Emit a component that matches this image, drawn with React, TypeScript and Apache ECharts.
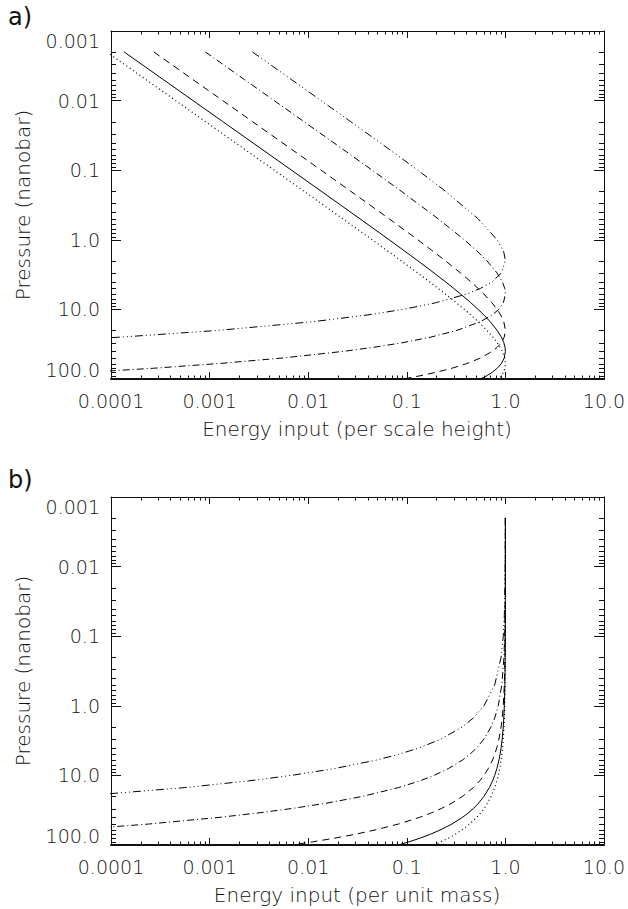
import React, { useEffect, useRef } from "react";
import * as echarts from "echarts";

// Pressure levels (nanobar) shared by all curves
const PRESSURE = [0.002, 0.005, 0.01, 0.02, 0.05, 0.1, 0.2, 0.5, 1, 1.5, 2, 3, 4, 5, 6, 8, 10, 12, 15, 20, 25, 30, 35, 40, 50, 60, 70, 80, 90, 100];

// Panel a) energy input per scale height
const A_DASHDOTDOT = [0.00272, 0.00678, 0.01352, 0.0269, 0.0663, 0.1293, 0.246, 0.529, 0.824, 0.963, 1.0, 0.91, 0.736, 0.558, 0.406, 0.199, 0.0916, 0.0404, 0.01128, 0.001234, 0.0001266, 0.0000125];
const A_DASHDOT = [0.000906, 0.002263, 0.004523, 0.00903, 0.02246, 0.04456, 0.08764, 0.2084, 0.3835, 0.529, 0.6492, 0.824, 0.9304, 0.9845, 1.0, 0.9553, 0.8557, 0.736, 0.558, 0.3232, 0.1756, 0.0916, 0.04645, 0.02305, 0.00544, 0.001234, 0.0002717, 0.0000587];
const A_DASHED = [0.000272, 0.000679, 0.001358, 0.002716, 0.00678, 0.01352, 0.0269, 0.0663, 0.1293, 0.1891, 0.246, 0.3509, 0.4451, 0.529, 0.6041, 0.7288, 0.824, 0.8951, 0.963, 1.0, 0.9735, 0.91, 0.8266, 0.736, 0.558, 0.406, 0.2873, 0.199, 0.1359, 0.0916];
const A_SOLID = [0.0001359, 0.00034, 0.000679, 0.001358, 0.003394, 0.00678, 0.01352, 0.03356, 0.0663, 0.0982, 0.1293, 0.1891, 0.246, 0.2999, 0.3509, 0.4451, 0.529, 0.6041, 0.7006, 0.824, 0.9094, 0.963, 0.9915, 1.0, 0.9735, 0.91, 0.8266, 0.736, 0.6446, 0.558];
const A_DOTTED = [0.0000906, 0.0002265, 0.000453, 0.000906, 0.002263, 0.004523, 0.00903, 0.02246, 0.04456, 0.0663, 0.08764, 0.1293, 0.1695, 0.2084, 0.246, 0.3172, 0.3835, 0.4451, 0.529, 0.6492, 0.7467, 0.824, 0.8849, 0.9304, 0.9845, 1.0, 0.9876, 0.9553, 0.91, 0.8557];

// Panel b) energy input per unit mass
const B_DASHDOTDOT = [0.999, 0.9975, 0.995, 0.99, 0.9753, 0.9512, 0.9048, 0.7788, 0.6065, 0.4724, 0.3679, 0.2231, 0.1353, 0.0821, 0.0498, 0.01832, 0.006738, 0.002479, 0.000553, 0.0000454];
const B_DASHDOT = [0.99967, 0.99917, 0.99833, 0.99667, 0.9917, 0.9835, 0.9672, 0.92, 0.8465, 0.7788, 0.7165, 0.6065, 0.5134, 0.4346, 0.3679, 0.2636, 0.1889, 0.1353, 0.0821, 0.03567, 0.0155, 0.006738, 0.002928, 0.001273, 0.00024, 0.0000454];
const B_DASHED = [0.9999, 0.99975, 0.9995, 0.999, 0.9975, 0.995, 0.99, 0.9753, 0.9512, 0.9277, 0.9048, 0.8607, 0.8187, 0.7788, 0.7408, 0.6703, 0.6065, 0.5488, 0.4724, 0.3679, 0.2865, 0.2231, 0.1738, 0.1353, 0.0821, 0.0498, 0.0302, 0.01832, 0.01111, 0.006738];
const B_SOLID = [0.99995, 0.99988, 0.99975, 0.9995, 0.99875, 0.9975, 0.995, 0.9876, 0.9753, 0.9632, 0.9512, 0.9277, 0.9048, 0.8825, 0.8607, 0.8187, 0.7788, 0.7408, 0.6873, 0.6065, 0.5353, 0.4724, 0.4169, 0.3679, 0.2865, 0.2231, 0.1738, 0.1353, 0.1054, 0.0821];
const B_DOTTED = [0.99997, 0.99992, 0.99983, 0.99967, 0.99917, 0.99834, 0.99667, 0.9917, 0.9835, 0.9753, 0.9672, 0.9512, 0.9355, 0.92, 0.9048, 0.8752, 0.8465, 0.8187, 0.7788, 0.7165, 0.6592, 0.6065, 0.558, 0.5134, 0.4346, 0.3679, 0.3114, 0.2636, 0.2231, 0.1889];

// Tick labels
const X_TICK_EXP = [-4, -3, -2, -1, 0, 1];
const X_TICK_LABELS = ["0.0001", "0.001", "0.01", "0.1", "1.0", "10.0"];
const Y_TICK_EXP = [-3, -2, -1, 0, 1, 2];
const Y_TICK_LABELS = ["0.001", "0.01", "0.1", "1.0", "10.0", "100.0"];
const MINOR_MULT = [2, 3, 4, 5, 6, 7, 8, 9];
const X_DECADES = [0.0001, 0.001, 0.01, 0.1, 1];
const Y_DECADES = [0.001, 0.01, 0.1, 1, 10];

const X_TITLE_A = "Energy input (per scale height)";
const X_TITLE_B = "Energy input (per unit mass)";
const Y_TITLE = "Pressure (nanobar)";

const FONT = "DejaVu Sans";
const WEIGHT = 200;
const INK = "#111";

const X_MINOR = X_DECADES.flatMap((d) => MINOR_MULT.map((m) => m * d));
const Y_MINOR = Y_DECADES.flatMap((d) => MINOR_MULT.map((m) => m * d));

const STYLES: Record<string, any> = {
  solid: "solid",
  dotted: [1, 3],
  dashed: [7, 5],
  dashdot: [7, 3, 1, 3],
  dashdotdot: [8, 3, 1, 3, 1, 3, 1, 3],
};

function fmt(exps: number[], labels: string[]) {
  return (v: number) => {
    const k = Math.round(Math.log10(v));
    const i = exps.indexOf(k);
    return i >= 0 ? labels[i] : "";
  };
}

function xAxis(gridIndex: number, position: string) {
  const bottom = position === "bottom";
  return {
    type: "log",
    logBase: 10,
    gridIndex,
    position,
    min: 0.0001,
    max: 10,
    splitNumber: 5,
    axisLine: { show: true, onZero: false, lineStyle: { color: INK, width: bottom ? 2 : 1 } },
    axisTick: { show: true, inside: true, length: 7, lineStyle: { color: INK, width: 1 } },
    axisLabel: {
      show: bottom,
      margin: 12,
      fontFamily: FONT,
      fontWeight: WEIGHT,
      fontSize: 19,
      color: INK,
      showMinLabel: true,
      showMaxLabel: true,
      hideOverlap: false,
      formatter: fmt(X_TICK_EXP, X_TICK_LABELS),
    },
    splitLine: { show: false },
    minorTick: { show: false },
  };
}

function yAxis(gridIndex: number, position: string) {
  const left = position === "left";
  return {
    type: "log",
    logBase: 10,
    gridIndex,
    position,
    inverse: true,
    min: 0.001,
    max: 100,
    splitNumber: 5,
    axisLine: { show: true, onZero: false, lineStyle: { color: INK, width: 1 } },
    axisTick: { show: true, inside: true, length: 10, lineStyle: { color: INK, width: 1 } },
    axisLabel: {
      show: left,
      margin: 11,
      fontFamily: FONT,
      fontWeight: WEIGHT,
      fontSize: 19,
      color: INK,
      showMinLabel: true,
      showMaxLabel: true,
      hideOverlap: false,
      verticalAlignMinLabel: "top",
      verticalAlignMaxLabel: "bottom",
      formatter: fmt(Y_TICK_EXP, Y_TICK_LABELS),
    },
    splitLine: { show: false },
    minorTick: { show: false },
  };
}

function curve(name: string, values: number[], style: string, axisIndex: number) {
  return {
    name,
    type: "line",
    xAxisIndex: axisIndex,
    yAxisIndex: axisIndex,
    data: values.map((e, i) => [e, PRESSURE[i]]),
    showSymbol: false,
    symbol: "none",
    clip: true,
    silent: true,
    smooth: false,
    lineStyle: { color: "#000", width: style === "dotted" ? 1.2 : 1, type: STYLES[style] },
    z: 3,
  };
}

function minorTicks(axisIndex: number, kind: "x" | "y") {
  return {
    type: "custom",
    xAxisIndex: axisIndex,
    yAxisIndex: axisIndex,
    silent: true,
    clip: false,
    z: 5,
    data: kind === "x" ? X_MINOR.map((v) => [v, 1]) : Y_MINOR.map((v) => [1, v]),
    renderItem: (params: any, api: any) => {
      const cs = params.coordSys;
      const p = api.coord([api.value(0), api.value(1)]);
      const style = { stroke: INK, lineWidth: 1 };
      if (kind === "x") {
        const x = Math.round(p[0]) + 0.5;
        const yb = cs.y + cs.height;
        return {
          type: "group",
          children: [
            { type: "line", shape: { x1: x, y1: yb, x2: x, y2: yb - 3.5 }, style },
            { type: "line", shape: { x1: x, y1: cs.y, x2: x, y2: cs.y + 3.5 }, style },
          ],
        };
      }
      const y = Math.round(p[1]) + 0.5;
      const xr = cs.x + cs.width;
      return {
        type: "group",
        children: [
          { type: "line", shape: { x1: cs.x, y1: y, x2: cs.x + 5, y2: y }, style },
          { type: "line", shape: { x1: xr, y1: y, x2: xr - 5, y2: y }, style },
        ],
      };
    },
  };
}

function label(text: string, x: number, y: number, size: number, opts: any = {}) {
  return {
    type: "text",
    x,
    y,
    rotation: opts.rotation || 0,
    silent: true,
    style: {
      text,
      fill: INK,
      fontFamily: FONT,
      fontWeight: opts.weight || WEIGHT,
      fontSize: size,
      align: opts.align || "center",
      verticalAlign: "middle",
    },
  };
}

export default function App() {
  const ref = useRef<HTMLDivElement>(null);
  useEffect(() => {
    if (!ref.current) return;
    const chart = echarts.init(ref.current, undefined, { renderer: "svg" });
    const option: any = {
      animation: false,
      backgroundColor: "#fff",
      grid: [
        { left: 111, top: 31, width: 493, height: 348, containLabel: false, outerBoundsMode: "none" },
        { left: 111, top: 497, width: 493, height: 348, containLabel: false, outerBoundsMode: "none" },
      ],
      xAxis: [xAxis(0, "bottom"), xAxis(1, "bottom"), xAxis(0, "top"), xAxis(1, "top")],
      yAxis: [yAxis(0, "left"), yAxis(1, "left"), yAxis(0, "right"), yAxis(1, "right")],
      series: [
        curve("a dotted", A_DOTTED, "dotted", 0),
        curve("a solid", A_SOLID, "solid", 0),
        curve("a dashed", A_DASHED, "dashed", 0),
        curve("a dash-dot", A_DASHDOT, "dashdot", 0),
        curve("a dash-dot-dot-dot", A_DASHDOTDOT, "dashdotdot", 0),
        curve("b dotted", B_DOTTED, "dotted", 1),
        curve("b solid", B_SOLID, "solid", 1),
        curve("b dashed", B_DASHED, "dashed", 1),
        curve("b dash-dot", B_DASHDOT, "dashdot", 1),
        curve("b dash-dot-dot-dot", B_DASHDOTDOT, "dashdotdot", 1),
        minorTicks(0, "x"),
        minorTicks(0, "y"),
        minorTicks(1, "x"),
        minorTicks(1, "y"),
      ],
      graphic: [
        label("a)", 8, 17, 24, { align: "left", weight: "normal" }),
        label("b)", 8, 480, 24, { align: "left", weight: "normal" }),
        label(X_TITLE_A, 357, 429, 20),
        label(X_TITLE_B, 357, 895, 20),
        label(Y_TITLE, 23, 205, 20, { rotation: Math.PI / 2 }),
        label(Y_TITLE, 23, 671, 20, { rotation: Math.PI / 2 }),
      ],
    };
    chart.setOption(option);
    return () => chart.dispose();
  }, []);
  return (
    <div
      ref={ref}
      style={{ position: "absolute", left: 0, top: 0, width: 628, height: 909, background: "#fff" }}
    />
  );
}
